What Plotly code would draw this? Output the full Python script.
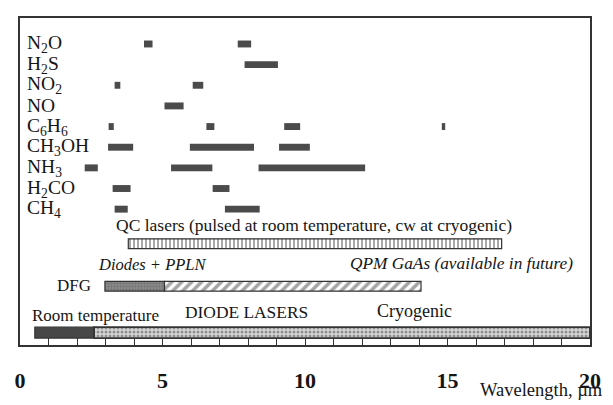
import plotly.graph_objects as go

# Gas species and the wavelength windows (µm) of their absorption bands
molecules = ["N<sub>2</sub>O", "H<sub>2</sub>S", "NO<sub>2</sub>", "NO", "C<sub>6</sub>H<sub>6</sub>",
             "CH<sub>3</sub>OH", "NH<sub>3</sub>", "H<sub>2</sub>CO", "CH<sub>4</sub>"]
band_start = [
    [4.35, 7.64],
    [7.88],
    [3.32, 6.06],
    [5.07],
    [3.11, 6.54, 9.27, 14.80],
    [3.09, 5.96, 9.09],
    [2.27, 5.30, 8.37],
    [3.25, 6.76],
    [3.32, 7.19],
]
band_end = [
    [4.65, 8.11],
    [9.05],
    [3.52, 6.43],
    [5.74],
    [3.29, 6.82, 9.83, 14.92],
    [3.97, 8.21, 10.17],
    [2.73, 6.75, 12.11],
    [3.88, 7.35],
    [3.78, 8.41],
]

# Laser source coverage (µm)
qc_range = [3.8, 16.9]
dfg_ppln_range = [2.98, 5.07]
dfg_gaas_range = [5.07, 14.07]
diode_room_range = [0.52, 2.6]
diode_cryo_range = [2.6, 20.0]

x_ticks = [0, 5, 10, 15, 20]

SERIF = "Liberation Serif"
DARK = "#4b4b4b"
INK = "#151515"

# vertical layout in plot-pixel units (0 = top of frame)
row0, row_step = 26.3, 20.9
y_qc, y_dfg, y_diode = 228.5, 271.5, 318.5

fig = go.Figure()

ys, bases, lens = [], [], []
for i, (s_list, e_list) in enumerate(zip(band_start, band_end)):
    for s, e in zip(s_list, e_list):
        ys.append(row0 + i * row_step)
        bases.append(s)
        lens.append(e - s)
fig.add_trace(go.Bar(y=ys, x=lens, base=bases, orientation="h", width=7,
                     marker=dict(color=DARK, line=dict(width=0)), showlegend=False))

def band(y, rng, h, color, pattern=None, line_w=1.2):
    marker = dict(color=color, line=dict(color="#333333", width=line_w))
    if pattern:
        marker["pattern"] = pattern
    fig.add_trace(go.Bar(y=[y], x=[rng[1] - rng[0]], base=[rng[0]], orientation="h",
                         width=h, marker=marker, showlegend=False))

# QC lasers
band(y_qc, qc_range, 10, "white",
     dict(shape="|", fgcolor="#3a3a3a", bgcolor="white", size=4, solidity=0.45))
# DFG: PPLN (textured grey) and QPM GaAs (hatched)
band(y_dfg, dfg_ppln_range, 10, "#777777",
     dict(shape=".", fgcolor="#555555", bgcolor="#8a8a8a", size=3, solidity=0.4))
band(y_dfg, dfg_gaas_range, 10, "white",
     dict(shape="/", fgcolor="#4a4a4a", bgcolor="white", size=7, solidity=0.5))
# Diode lasers: room temperature (solid) and cryogenic (dotted)
band(y_diode, diode_room_range, 11, "#474747")
band(y_diode, diode_cryo_range, 11, "#cfcfcf",
     dict(shape=".", fgcolor="#444444", bgcolor="#d8d8d8", size=4, solidity=0.45),
     line_w=1.8)

def px2x(px):
    return (px - 20) / 28.9

ann = []
for i, m in enumerate(molecules):
    ann.append(dict(x=px2x(25), y=row0 + i * row_step, text=m, xanchor="left",
                    yanchor="middle", showarrow=False,
                    font=dict(family=SERIF, size=19.5, color=INK)))

labels = [
    ("QC lasers (pulsed at room temperature, cw at cryogenic)", 115, 210, 17.5, "normal"),
    ("Diodes + PPLN", 97, 250, 16.5, "italic"),
    ("QPM GaAs (available in future)", 353, 249, 17.3, "italic"),
    ("DFG", 55, 271, 17, "normal"),
    ("Room temperature", 30, 301, 17, "normal"),
    ("DIODE LASERS", 185, 298, 17.4, "normal"),
    ("Cryogenic", 380, 297, 18, "normal"),
]
for text, px, y, size, style in labels:
    ann.append(dict(x=px2x(px), y=y, text=text, xanchor="left", yanchor="middle",
                    showarrow=False,
                    font=dict(family=SERIF, size=size, color=INK, style=style)))

ann.append(dict(x=1.026, y=-0.138, xref="paper", yref="paper", text="Wavelength, µm",
                xanchor="right", yanchor="middle", showarrow=False,
                font=dict(family=SERIF, size=18.5, color=INK)))

fig.update_layout(
    width=613, height=405,
    margin=dict(l=20, r=15, t=18, b=56),
    paper_bgcolor="white", plot_bgcolor="white",
    barmode="overlay",
    annotations=ann,
    xaxis=dict(range=[0, 20], tickvals=x_ticks, ticktext=[str(t) for t in x_ticks],
               ticks="inside", ticklen=7, tickcolor="#333333", tickwidth=1.2,
               minor=dict(dtick=1, ticks="inside", ticklen=7, tickcolor="#333333"),
               showline=True, linecolor="#333333", linewidth=1.5, mirror=True,
               showgrid=False, zeroline=False, ticklabelstandoff=15,
               tickfont=dict(family=SERIF, size=22, color=INK, weight="bold")),
    yaxis=dict(range=[331, 0], showticklabels=False, ticks="",
               showline=True, linecolor="#333333", linewidth=1.5, mirror=True,
               showgrid=False, zeroline=False),
)

fig.write_html("out.html")
